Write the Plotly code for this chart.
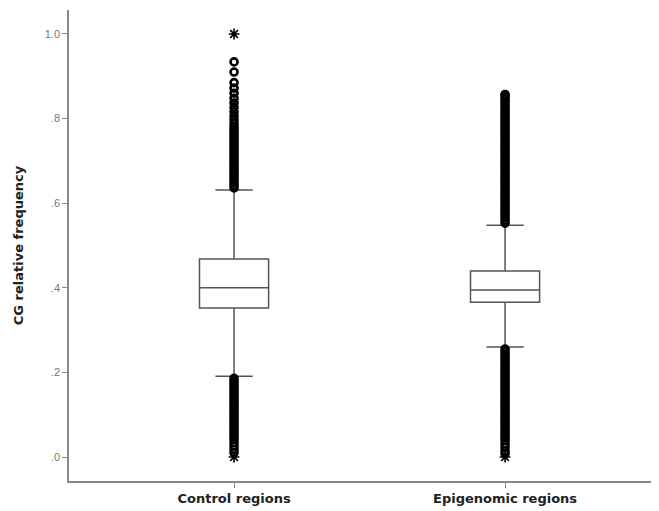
import plotly.graph_objects as go

categories = ["Control regions", "Epigenomic regions"]
q1 = [0.352, 0.366]
median = [0.400, 0.395]
q3 = [0.468, 0.440]
lower_fence = [0.191, 0.260]
upper_fence = [0.631, 0.548]

ctrl_hi = [0.636, 0.642, 0.648, 0.654, 0.660, 0.666, 0.672, 0.678, 0.684, 0.690,
           0.696, 0.702, 0.708, 0.714, 0.720, 0.726, 0.732, 0.738, 0.744, 0.750,
           0.756, 0.762, 0.768, 0.774, 0.780, 0.788, 0.797, 0.806, 0.816, 0.826,
           0.837, 0.848, 0.860, 0.872, 0.885, 0.910, 0.934]
ctrl_lo = [0.186, 0.180, 0.174, 0.168, 0.162, 0.156, 0.150, 0.144, 0.138, 0.132,
           0.126, 0.120, 0.114, 0.108, 0.102, 0.096, 0.090, 0.084, 0.078, 0.072,
           0.066, 0.060, 0.054, 0.048, 0.042, 0.034, 0.026, 0.018, 0.010]
ctrl_ext = [1.0, 0.0]

epi_hi = [0.553, 0.559, 0.565, 0.571, 0.577, 0.583, 0.589, 0.595, 0.601, 0.607,
          0.613, 0.619, 0.625, 0.631, 0.637, 0.643, 0.649, 0.655, 0.661, 0.667,
          0.673, 0.679, 0.685, 0.691, 0.697, 0.703, 0.709, 0.715, 0.721, 0.727,
          0.733, 0.739, 0.745, 0.751, 0.757, 0.763, 0.769, 0.775, 0.781, 0.787,
          0.793, 0.799, 0.805, 0.811, 0.817, 0.823, 0.829, 0.835, 0.841, 0.847,
          0.853, 0.857]
epi_lo = [0.255, 0.249, 0.243, 0.237, 0.231, 0.225, 0.219, 0.213, 0.207, 0.201,
          0.195, 0.189, 0.183, 0.177, 0.171, 0.165, 0.159, 0.153, 0.147, 0.141,
          0.135, 0.129, 0.123, 0.117, 0.111, 0.105, 0.099, 0.093, 0.087, 0.081,
          0.075, 0.069, 0.063, 0.057, 0.051, 0.045, 0.039, 0.031, 0.023, 0.015,
          0.008]
epi_ext = [0.0]

tick_vals = [0.0, 0.2, 0.4, 0.6, 0.8, 1.0]
tick_text = [".0", ".2", ".4", ".6", ".8", "1.0"]

FONT = "DejaVu Sans, Verdana, sans-serif"

fig = go.Figure()

fig.add_trace(go.Box(
    x=[0, 1], q1=q1, median=median, q3=q3,
    lowerfence=lower_fence, upperfence=upper_fence,
    boxpoints=False, width=0.255, whiskerwidth=0.54,
    fillcolor="white", line=dict(color="#555555", width=1.5),
    showlegend=False, hoverinfo="skip",
))

outlier_sets = [
    (0, ctrl_hi, "circle-open", 7, 2.6), (0, ctrl_lo, "circle-open", 7, 2.6),
    (0, ctrl_ext, "asterisk-open", 9, 1.6),
    (1, epi_hi, "circle-open", 7, 2.6), (1, epi_lo, "circle-open", 7, 2.6),
    (1, epi_ext, "asterisk-open", 9, 1.6),
]
for xi, vals, sym, sz, lw in outlier_sets:
    fig.add_trace(go.Scatter(
        x=[xi] * len(vals), y=vals, mode="markers",
        marker=dict(symbol=sym, size=sz, color="black", line=dict(color="black", width=lw)),
        showlegend=False, hoverinfo="skip",
    ))

fig.update_layout(
    width=651, height=503,
    margin=dict(l=61, r=0, t=2, b=30),
    paper_bgcolor="white", plot_bgcolor="white",
    font=dict(family=FONT),
)
fig.update_xaxes(
    range=[-0.609, 1.568], tickvals=[0, 1],
    ticktext=["<b>" + c + "</b>" for c in categories],
    showline=True, linecolor="#888888", linewidth=1.5,
    ticks="outside", ticklen=5, tickcolor="#888888",
    tickfont=dict(size=13, color="#222222", family=FONT),
    showgrid=False, zeroline=False,
)
fig.update_yaxes(
    range=[-0.0567, 1.0567], tickvals=tick_vals, ticktext=tick_text,
    showline=True, linecolor="#888888", linewidth=1.5,
    ticks="outside", ticklen=5, tickcolor="#888888",
    tickfont=dict(size=11, color="#777777", family="Liberation Sans, Arial, sans-serif"),
    showgrid=False, zeroline=False,
    title=dict(text="<b>CG relative frequency</b>", font=dict(size=13, color="#222222", family=FONT), standoff=18),
)

fig.write_html("out.html")
